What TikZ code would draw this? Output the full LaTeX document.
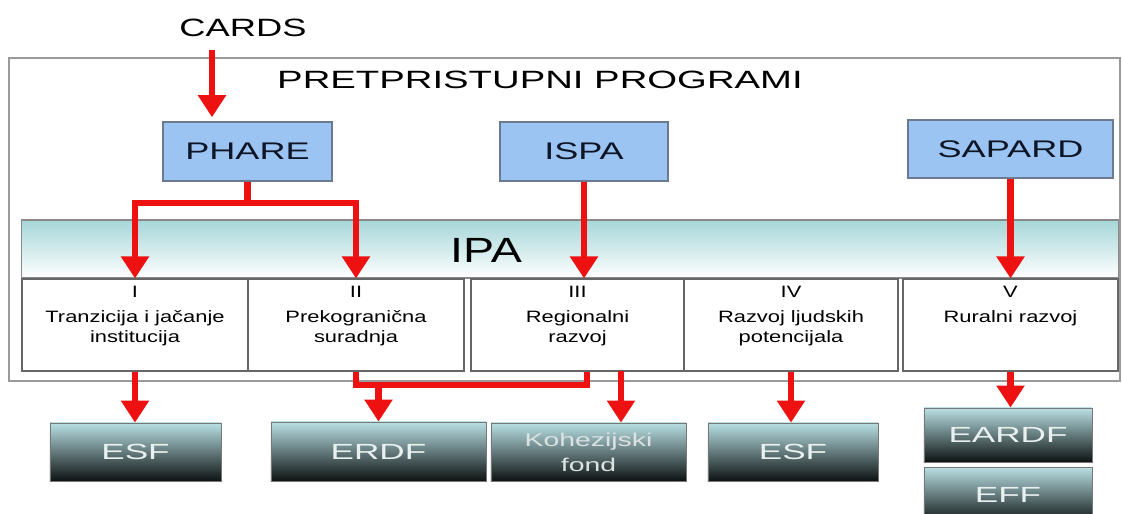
\documentclass[tikz,border=0pt]{standalone}
\usepackage{fontspec}
\setmainfont{Liberation Sans}
\usepackage{graphicx}
\usetikzlibrary{arrows.meta}
\definecolor{arrowred}{HTML}{EE1111}
\definecolor{frameline}{HTML}{9A9A9A}
\definecolor{progfill}{HTML}{9CC4F2}
\definecolor{progline}{HTML}{6B7A8F}
\definecolor{progtext}{HTML}{0D1526}
\definecolor{ipatop}{HTML}{A6D6D9}
\definecolor{bandline}{HTML}{8A8A8A}
\definecolor{cellline}{HTML}{666666}
\definecolor{fundtop}{HTML}{B9E0E4}
\definecolor{fundmid}{HTML}{86A8AC}
\definecolor{fundbot}{HTML}{0D1212}
\definecolor{fundline}{HTML}{777777}
\definecolor{fundtext}{HTML}{E8F0F0}
\newcommand{\stretchx}[2]{\scalebox{#1}[1]{#2}}
\newcommand{\celltext}[3]{\parbox[c][2.3cm][t]{5cm}{\centering\fontsize{11.7}{14.2}\selectfont\vspace{5pt}\stretchx{1.33}{#1}\\[3.5pt]\stretchx{1.33}{#2}\\\stretchx{1.33}{#3}}}
\begin{document}
\begin{tikzpicture}[
		x=0.025cm, y=-0.025cm,
		frame/.style={draw=frameline, line width=1.4pt, inner sep=0pt},
		title/.style={inner sep=0pt, font=\fontsize{17.8}{21}\selectfont, text=black},
		prog/.style={draw=progline, fill=progfill, line width=0.8pt, inner sep=0pt, font=\fontsize{17.1}{20}\selectfont, text=progtext},
		band/.style={draw=bandline, line width=0.8pt, top color=ipatop, bottom color=white, inner sep=0pt},
		cell/.style={draw=cellline, line width=0.8pt, fill=white, inner sep=0pt},
		fund/.style={draw=fundline, line width=0.6pt, top color=fundtop, middle color=fundmid, bottom color=fundbot, inner sep=0pt, text=fundtext, align=center, font=\fontsize{15.6}{18}\selectfont},
		redline/.style={draw=arrowred, line width=4.3pt},
		redarrow/.style={redline, -{Triangle[width=0.675cm, length=0.55cm]}}
		]
		\useasboundingbox (0,0) rectangle (1122,513);
		\clip (0,0) rectangle (1122,513);
		\node[frame, minimum width=27.775cm, minimum height=8.075cm] (frame) at (564.5,219.5) {};
		\node[title] (cards) at (243,28) {\stretchx{1.45}{CARDS}};
		\node[title] (pretpristupni) at (540,80) {\stretchx{1.53}{PRETPRISTUPNI PROGRAMI}};
		\node[prog, minimum width=4.225cm, minimum height=1.475cm] (phare) at (247.5,151.5) {\stretchx{1.5}{PHARE}};
		\node[prog, minimum width=4.2cm, minimum height=1.475cm] (ispa) at (584,151.5) {\stretchx{1.5}{ISPA}};
		\node[prog, minimum width=5.125cm, minimum height=1.45cm] (sapard) at (1010.5,149) {\stretchx{1.5}{SAPARD}};
		\node[band, minimum width=27.4cm, minimum height=1.45cm] (ipa) at (570,249) {};
		\node[inner sep=0pt, font=\fontsize{24.9}{28}\selectfont] (ipatext) at (486,250) {\stretchx{1.33}{IPA}};
		\node[cell, minimum width=5.65cm] (c1) at (135,325) {\celltext{I}{Tranzicija i jačanje}{institucija}};
		\node[cell, minimum width=5.4cm] (c2) at (356,325) {\celltext{II}{Prekogranična}{suradnja}};
		\node[cell, minimum width=5.325cm] (c3) at (577.5,325) {\celltext{III}{Regionalni}{razvoj}};
		\node[cell, minimum width=5.35cm] (c4) at (791,325) {\celltext{IV}{Razvoj ljudskih}{potencijala}};
		\node[cell, minimum width=5.375cm] (c5) at (1010.5,325) {\celltext{V}{Ruralni razvoj}{}};
		\node[fund, minimum width=4.275cm, minimum height=1.45cm] (esf1) at (135.5,452) {\stretchx{1.6}{ESF}};
		\node[fund, minimum width=5.375cm, minimum height=1.475cm] (erdf) at (378.5,451.5) {\stretchx{1.6}{ERDF}};
		\node[fund, minimum width=4.875cm, minimum height=1.45cm, font=\fontsize{13.2}{17.8}\selectfont, text=fundtext!88!gray] (koh) at (588.5,452) {\stretchx{1.53}{Kohezijski}\\\stretchx{1.53}{fond}};
		\node[fund, minimum width=4.25cm, minimum height=1.45cm] (esf2) at (793,452) {\stretchx{1.6}{ESF}};
		\node[fund, minimum width=4.2cm, minimum height=1.35cm] (eardf) at (1008,435) {\stretchx{1.6}{EARDF}};
		\node[fund, minimum width=4.2cm, minimum height=1.4cm] (eff) at (1008,495) {\stretchx{1.6}{EFF}};
		\coordinate (cardsout) at (212,50);
		\draw[redarrow, shorten >=3pt] (cardsout) -- (cardsout |- phare.north);
		\draw[redline] (phare.south) -- ++(0,21) coordinate (phsplit);
		\draw[redarrow] (phsplit) -| (c1.north);
		\draw[redarrow] (phsplit) -| (c2.north);
		\draw[redarrow] (ispa.south) -- (ispa.south |- c3.north);
		\draw[redarrow] (sapard.south) -- (sapard.south |- c5.north);
		\draw[redarrow] (c1.south) -- (c1.south |- esf1.north);
		\coordinate (j3) at (587,385);
		\draw[redline] (c2.south) |- (j3) -- (j3 |- c3.south);
		\draw[redarrow] (j3 -| erdf.north) -- (erdf.north);
		\coordinate (kohin) at (621,371);
		\draw[redarrow] (kohin) -- (kohin |- koh.north);
		\draw[redarrow] (c4.south) -- (c4.south |- esf2.north);
		\draw[redarrow] (c5.south) -- (c5.south |- eardf.north);
	\end{tikzpicture}
\end{document}
